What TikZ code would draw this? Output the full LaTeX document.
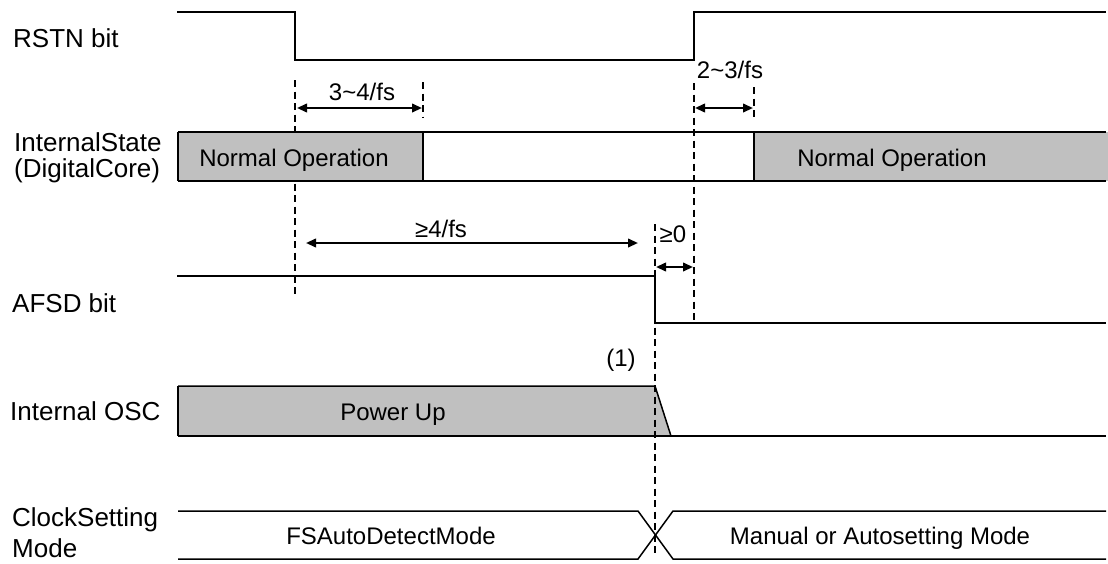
\documentclass[tikz,border=0pt]{standalone}
\usepackage{fontspec}
\setmainfont{Liberation Sans}
\usetikzlibrary{arrows.meta}
\definecolor{boxgray}{HTML}{C0C0C0}
\begin{document}
\begin{tikzpicture}[x=1pt,y=-1pt,
  sig/.style={line width=1.8pt},
  box/.style={line width=1.5pt},
  dsh/.style={line width=1.3pt, dash pattern=on 7pt off 4.5pt},
  dimarrow/.style={line width=2.2pt, {Triangle[length=10pt,width=8.5pt]}-{Triangle[length=10pt,width=8.5pt]}},
  rowlbl/.style={font=\fontsize{26}{30}\selectfont, inner sep=0pt, anchor=base west},
  lbl/.style={font=\fontsize{24}{28}\selectfont, inner sep=0pt, anchor=base}]
\useasboundingbox (0,0) rectangle (1108,563);

% row labels
\node[rowlbl] (lrstn) at (13,47) {RSTN bit};
\node[rowlbl] (lstate1) at (14,151) {InternalState};
\node[rowlbl] (lstate2) at (14,177) {(DigitalCore)};
\node[rowlbl] (lafsd) at (12,312) {AFSD bit};
\node[rowlbl] (losc) at (10,420) {Internal OSC};
\node[rowlbl] (lclk1) at (12,526) {ClockSetting};
\node[rowlbl] (lclk2) at (12,557) {Mode};

% guide lines (hidden behind the grey fill of the state row)
\coordinate (d1t) at (295,80);  \coordinate (d1b) at (295,296);
\coordinate (d2t) at (423,82);  \coordinate (d2b) at (423,118);
\coordinate (d3t) at (694,83);  \coordinate (d3b) at (694,320);
\coordinate (d4t) at (754,87);  \coordinate (d4b) at (754,120);
\coordinate (d5t) at (655,224); \coordinate (d5b) at (655,556);
\draw[dsh] (d1t) -- (d1b);
\draw[dsh] (d2t) -- (d2b);
\draw[dsh] (d3t) -- (d3b);
\draw[dsh] (d4t) -- (d4b);

% RSTN bit
\draw[sig] (177,12) -- (295,12) -- (295,60) -- (694,60) -- (694,12) -- (1106,12);

% Internal state
\fill[boxgray] (178,132) rectangle (423,181);
\fill[boxgray] (754,132) rectangle (1108,181);
\draw[box] (178,132) -- (1106,132);
\draw[box] (178,181) -- (1106,181);
\draw[box] (178,132) -- (178,181);
\draw[box] (423,132) -- (423,181);
\draw[box] (754,132) -- (754,181);
\node[lbl] (no1) at (294,166) {Normal Operation};
\node[lbl] (no2) at (892,166) {Normal Operation};

% AFSD bit
\draw[sig] (177,276) -- (655,276) -- (655,323) -- (1106,323);

% Internal OSC
\fill[boxgray] (178,386) -- (655,386) -- (671,436) -- (178,436) -- cycle;
\draw[box] (178,386) -- (178,436);
\draw[box] (178,386) -- (655,386) -- (671,436);
\draw[box] (178,436) -- (1106,436);
\node[lbl] (pu) at (393,420) {Power Up};

% ClockSetting mode
\draw[box] (178,511) -- (638,511) -- (673,559) -- (1106,559);
\draw[box] (178,559) -- (638,559) -- (673,511) -- (1106,511);
\node[lbl] (fsa) at (391,544) {FSAutoDetectMode};
\node[lbl] (man) at (880,544) {Manual or Autosetting Mode};

% guide through AFSD / OSC / mode rows
\draw[dsh] (d5t) -- (d5b);

% dimension arrows
\coordinate (a1l) at (297,108); \coordinate (a1r) at (422,108);
\coordinate (a2l) at (695,108); \coordinate (a2r) at (753,108);
\coordinate (a3l) at (306,243); \coordinate (a3r) at (638,243);
\coordinate (a4l) at (656,267); \coordinate (a4r) at (693,267);
\draw[dimarrow] (a1l) -- (a1r);
\draw[dimarrow] (a2l) -- (a2r);
\draw[dimarrow] (a3l) -- (a3r);
\draw[dimarrow] (a4l) -- (a4r);
\node[lbl] (t1) at (362,100) {3\textasciitilde4/fs};
\node[lbl] (t2) at (730,78) {2\textasciitilde3/fs};
\node[lbl] (t3) at (441,237) {≥4/fs};
\node[lbl] (t4) at (673,242) {≥0};
\node[lbl] (t5) at (621,366) {(1)};
\end{tikzpicture}
\end{document}
